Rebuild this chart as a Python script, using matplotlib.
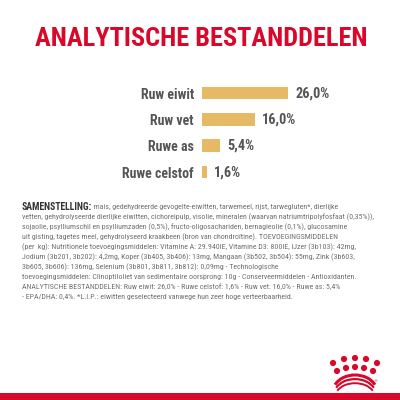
import matplotlib
matplotlib.use("Agg")
import matplotlib.pyplot as plt
from matplotlib.patches import Circle, Rectangle, Arc
from matplotlib import font_manager as fm

# data
title = "ANALYTISCHE BESTANDDELEN"
nutrients = ["Ruw eiwit", "Ruw vet", "Ruwe as", "Ruwe celstof"]
percent = [26.0, 16.0, 5.4, 1.6]
head = "SAMENSTELLING:"
body = [
    " mais, gedehydreerde gevogelte-eiwitten, tarwemeel, rijst, tarwegluten*, dierlijke",
    "vetten, gehydrolyseerde dierlijke eiwitten, cichoreipulp, visolie, mineralen (waarvan natriumtripolyfosfaat (0,35%)),",
    "sojaolie, psylliumschil en psylliumzaden (0,5%), fructo-oligosachariden, bernagieolie (0,1%), glucosamine",
    "uit gisting, tagetes meel, gehydrolyseerd kraakbeen (bron van chondroïtine). TOEVOEGINGSMIDDELEN",
    "(per  kg): Nutritionele toevoegingsmiddelen: Vitamine A: 29.940IE, Vitamine D3: 800IE, IJzer (3b103): 42mg,",
    "Jodium (3b201, 3b202): 4,2mg, Koper (3b405, 3b406): 13mg, Mangaan (3b502, 3b504): 55mg, Zink (3b603,",
    "3b605, 3b606): 136mg, Selenium (3b801, 3b811, 3b812): 0,09mg - Technologische",
    "toevoegingsmiddelen: Clinoptiloliet van sedimentaire oorsprong: 10g - Conserveermiddelen - Antioxidanten.",
    "ANALYTISCHE BESTANDDELEN: Ruw eiwit: 26,0% - Ruwe celstof: 1,6% - Ruw vet: 16,0% - Ruwe as: 5,4%",
    "- EPA/DHA: 0,4%. *L.I.P.: eiwitten geselecteerd vanwege hun zeer hoge verteerbaarheid.",
]

RED = "#d9082a"
GOLD = "#e6b967"
GREY = "#555555"
LIGHT = "#707070"

names = {f.name for f in fm.fontManager.ttflist}
NARROW = [n for n in ["Liberation Sans Narrow", "Roboto Condensed", "Open Sans Condensed"] if n in names] + ["DejaVu Sans"]

fig = plt.figure(figsize=(4, 4), dpi=100)
ov = fig.add_axes([0, 0, 1, 1])
ov.set_xlim(0, 400)
ov.set_ylim(400, 0)
ov.axis("off")
fig.canvas.draw()
r = fig.canvas.get_renderer()


def fit(t, width):
    w = t.get_window_extent(renderer=r).width
    t.set_fontsize(t.get_fontsize() * width / w)


t = ov.text(201, 38.5, title, ha="center", va="center", color=RED, fontsize=24,
            weight="bold", family=NARROW)
fit(t, 334)

# ingredient text
first = ov.text(22, 207, head, ha="left", va="center", color="#333333",
                fontsize=6, weight="bold", family=NARROW)
fit(first, 71)
lines = []
for i, s in enumerate(body):
    if i == 0:
        tt = ov.annotate(s, xy=(1, 0.45), xycoords=first, va="center", ha="left",
                         color=LIGHT, fontsize=5, family=NARROW)
    else:
        tt = ov.text(22, 207 + i * 9.95, s, ha="left", va="center", color=LIGHT,
                     fontsize=5, family=NARROW)
    lines.append(tt)
w = lines[1].get_window_extent(renderer=r).width
fs = 5 * 357 / w
for tt in lines:
    tt.set_fontsize(fs)

# bar chart
ax = fig.add_axes([202 / 400, 1 - 185.2 / 400, 99.3 / 400, 105.3 / 400])
ax.patch.set_alpha(0)
ypos = list(range(len(nutrients)))
ax.barh(ypos, percent, height=0.475, color=GOLD)
ax.set_xlim(0, 30)
ax.set_ylim(len(nutrients) - 0.5, -0.5)
ax.set_xticks([])
ax.set_yticks(ypos, nutrients)
ax.tick_params(axis="y", length=0, pad=5.8, labelsize=10, labelcolor=GREY)
for lb in ax.get_yticklabels():
    lb.set_fontfamily(NARROW)
    lb.set_fontweight("bold")
for s in ax.spines.values():
    s.set_visible(False)
for y, v in zip(ypos, percent):
    ax.annotate(f"{v:.1f}%".replace(".", ","), xy=(v, y), xytext=(5, 0),
                textcoords="offset points", va="center", ha="left",
                color=GREY, fontsize=10.3, weight="bold", family=NARROW)

# logo and bottom band
for x, y in [(333, 363), (344, 359), (355, 358), (366, 359), (377, 363),
             (337, 371), (346, 368), (355, 367), (364, 368), (373, 371)]:
    ov.add_patch(Circle((x, y), 3.1, color=RED, lw=0))
for k, lw in enumerate([2.2, 1.6, 1.4]):
    ov.add_patch(Arc((355, 392 + k * 2.6), 44 - k * 2, 34 - k * 3, theta1=200, theta2=340,
                     color=RED, lw=lw))
ov.text(375, 381, "®", fontsize=3, color=RED, ha="center", va="center")
ov.add_patch(Rectangle((0, 393), 400, 7, color=RED, lw=0))

fig.savefig("out.png", dpi=100)
